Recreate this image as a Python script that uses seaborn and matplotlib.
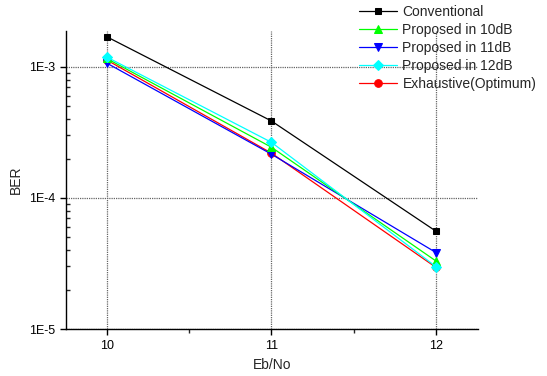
import pandas as pd
import matplotlib.pyplot as plt
import seaborn as sns

ebno = [10, 11, 12]
series_names = ["Conventional", "Proposed in 10dB", "Proposed in 11dB",
                "Proposed in 12dB", "Exhaustive(Optimum)"]
ber_conv = [1.70e-3, 3.87e-4, 5.57e-5]
ber_p10 = [1.16e-3, 2.44e-4, 3.30e-5]
ber_p11 = [1.07e-3, 2.16e-4, 3.83e-5]
ber_p12 = [1.19e-3, 2.66e-4, 2.99e-5]
ber_opt = [1.13e-3, 2.20e-4, 2.95e-5]

colors = ["black", "#00ff00", "#0000ff", "#00ffff", "#ff0000"]
markers = ["s", "^", "v", "D", "o"]
msizes = [5, 6, 6, 5, 5.5]
# drawing order: red underneath, then blue, green, cyan, black on top
zorders = [6, 4, 3, 5, 2]

rows = []
for name, vals in zip(series_names, [ber_conv, ber_p10, ber_p11, ber_p12, ber_opt]):
    for x, y in zip(ebno, vals):
        rows.append({"Eb/No": x, "BER": y, "series": name})
df = pd.DataFrame(rows)

sns.set_style("ticks")
plt.rcParams["font.family"] = ["Liberation Sans", "DejaVu Sans"]

fig = plt.figure(figsize=(5.47, 3.76), dpi=100)
ax = fig.add_axes([0.1207, 0.125, 0.7526, 0.7926])

for name, c, m, ms, z in zip(series_names, colors, markers, msizes, zorders):
    sub = df[df["series"] == name]
    sns.lineplot(data=sub, x="Eb/No", y="BER", ax=ax, color=c, marker=m,
                 markersize=ms, markeredgecolor=c, linewidth=0.9, label=name,
                 zorder=z)

ax.set_yscale("log")
ax.set_ylim(1e-5, 1.88e-3)
ax.set_xlim(9.753, 12.253)
ax.set_xticks(ebno)
ax.set_xticks([10.5, 11.5], minor=True)
ax.set_yticks([1e-5, 1e-4, 1e-3])
ax.set_yticklabels(["1E-5", "1E-4", "1E-3"])
ax.set_xticklabels([str(v) for v in ebno])
ax.grid(True, which="major", color="#666666", linestyle=(0, (1, 0.8)), linewidth=0.9)
ax.set_axisbelow(True)

for s in ["top", "right"]:
    ax.spines[s].set_visible(False)
for s in ["left", "bottom"]:
    ax.spines[s].set_color("black")
    ax.spines[s].set_linewidth(1)

ax.tick_params(axis="both", which="major", direction="out", length=4.5, width=1,
               labelsize=9, colors="black")
ax.tick_params(axis="y", which="minor", direction="in", length=3, width=1)
ax.tick_params(axis="x", which="minor", direction="out", length=3, width=1)

ax.set_xlabel("Eb/No", fontsize=10)
ax.set_ylabel("BER", fontsize=10)

ax.get_legend().remove()
handles, labels = ax.get_legend_handles_labels()
fig.legend(handles, labels, loc="upper left", bbox_to_anchor=(0.652, 0.995),
           frameon=False, fontsize=10, handlelength=2.7, handletextpad=0.4,
           labelspacing=0.3, borderpad=0.2, borderaxespad=0)

fig.savefig("out.png", dpi=100)
